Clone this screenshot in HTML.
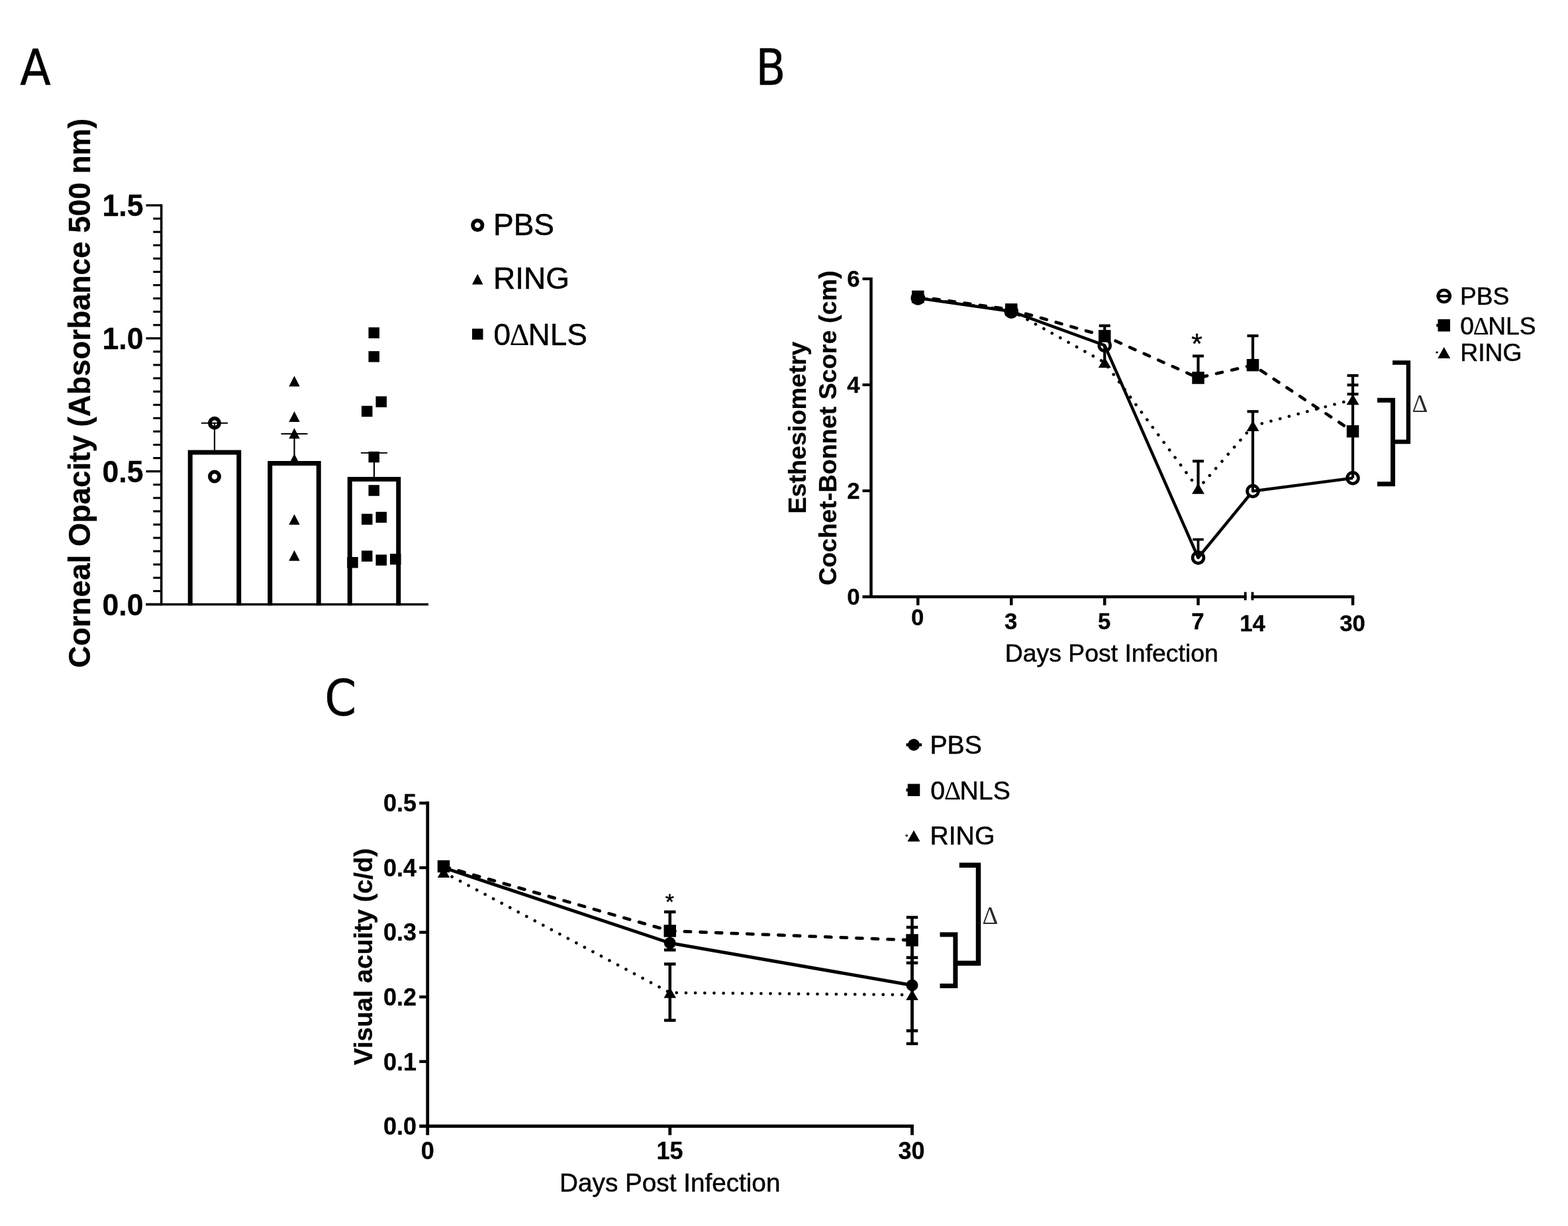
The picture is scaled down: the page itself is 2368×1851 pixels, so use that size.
<!DOCTYPE html>
<html lang="en">
<head>
<meta charset="utf-8">
<title>Figure: corneal opacity, esthesiometry and visual acuity</title>
<style>
html,body{margin:0;padding:0;background:#fff;}
body{width:2368px;height:1851px;overflow:hidden;}
svg{display:block;font-family:"Liberation Sans", sans-serif;fill:#000;stroke:#000;}
svg text{stroke:#000;stroke-width:0.5px;fill:#000;}
svg text.b{stroke-width:0.3px;}
svg .f{stroke:none;fill:#000;}
svg .pl text{font-family:"DejaVu Sans","Liberation Sans",sans-serif;}
svg .dl,svg .dl2{font-family:"Liberation Serif", serif;}
svg text.dl{fill:#2a2a2a;stroke:none;}
svg .dl2{stroke-width:0.2px;}
</style>
</head>
<body>
<svg width="2368" height="1851" viewBox="0 0 2368 1851">
<rect x="0" y="0" width="2368" height="1851" fill="#fff" stroke="none"/>
<g class="pl">
<text x="30.20" y="128.00" text-anchor="start" style="font-size:74.3px;" textLength="46.5" lengthAdjust="spacingAndGlyphs">A</text>
<text x="1141.60" y="128.00" text-anchor="start" style="font-size:75px;" textLength="45" lengthAdjust="spacingAndGlyphs">B</text>
<text x="490.20" y="1079.70" text-anchor="start" style="font-size:75px;" textLength="48" lengthAdjust="spacingAndGlyphs">C</text>
</g>
<g id="panelA">
<line x1="324.00" y1="638.75" x2="324.00" y2="683.00" stroke-width="2.2" />
<line x1="304.00" y1="638.75" x2="344.00" y2="638.75" stroke-width="2.2" />
<line x1="444.50" y1="655.00" x2="444.50" y2="699.60" stroke-width="2.2" />
<line x1="424.50" y1="655.00" x2="464.50" y2="655.00" stroke-width="2.2" />
<line x1="565.00" y1="683.75" x2="565.00" y2="723.50" stroke-width="2.2" />
<line x1="545.00" y1="683.75" x2="585.00" y2="683.75" stroke-width="2.2" />
<polygon points="444.50,567.60 452.75,583.60 436.25,583.60" class="f"/>
<polygon points="444.50,621.00 452.75,637.00 436.25,637.00" class="f"/>
<polygon points="444.50,646.20 452.75,662.20 436.25,662.20" class="f"/>
<polygon points="444.50,685.00 452.75,701.00 436.25,701.00" class="f"/>
<polygon points="444.50,776.20 452.75,792.20 436.25,792.20" class="f"/>
<polygon points="444.50,830.80 452.75,846.80 436.25,846.80" class="f"/>
<rect x="556.50" y="494.25" width="16.5" height="16.5" class="f"/>
<rect x="556.50" y="530.15" width="16.5" height="16.5" class="f"/>
<rect x="567.50" y="598.35" width="16.5" height="16.5" class="f"/>
<rect x="546.00" y="612.75" width="16.5" height="16.5" class="f"/>
<rect x="556.50" y="681.75" width="16.5" height="16.5" class="f"/>
<rect x="556.50" y="732.25" width="16.5" height="16.5" class="f"/>
<rect x="567.50" y="772.75" width="16.5" height="16.5" class="f"/>
<rect x="546.00" y="775.75" width="16.5" height="16.5" class="f"/>
<rect x="546.00" y="831.35" width="16.5" height="16.5" class="f"/>
<rect x="567.50" y="837.35" width="16.5" height="16.5" class="f"/>
<rect x="524.25" y="841.00" width="16.5" height="16.5" class="f"/>
<rect x="589.00" y="836.00" width="16.5" height="16.5" class="f"/>
<path d="M287.25 914.25V683.00H360.75V914.25" fill="none" stroke-width="7"/>
<path d="M407.75 914.25V699.60H481.25V914.25" fill="none" stroke-width="7"/>
<path d="M528.25 914.25V723.50H601.75V914.25" fill="none" stroke-width="7"/>
<circle cx="324.00" cy="638.75" r="7.1" fill="none" stroke-width="5.8"/>
<circle cx="324.00" cy="719.50" r="7.1" fill="none" stroke-width="5.8"/>
<line x1="243.70" y1="308.50" x2="243.70" y2="914.25" stroke-width="3.5" />
<line x1="220.50" y1="912.50" x2="647.00" y2="912.50" stroke-width="3.5" />
<line x1="220.50" y1="912.50" x2="243.70" y2="912.50" stroke-width="3.3" />
<line x1="231.30" y1="892.42" x2="243.70" y2="892.42" stroke-width="3.1" />
<line x1="231.30" y1="872.33" x2="243.70" y2="872.33" stroke-width="3.1" />
<line x1="231.30" y1="852.25" x2="243.70" y2="852.25" stroke-width="3.1" />
<line x1="231.30" y1="832.17" x2="243.70" y2="832.17" stroke-width="3.1" />
<line x1="231.30" y1="812.08" x2="243.70" y2="812.08" stroke-width="3.1" />
<line x1="231.30" y1="792.00" x2="243.70" y2="792.00" stroke-width="3.1" />
<line x1="231.30" y1="771.92" x2="243.70" y2="771.92" stroke-width="3.1" />
<line x1="231.30" y1="751.83" x2="243.70" y2="751.83" stroke-width="3.1" />
<line x1="231.30" y1="731.75" x2="243.70" y2="731.75" stroke-width="3.1" />
<line x1="220.50" y1="711.67" x2="243.70" y2="711.67" stroke-width="3.3" />
<line x1="231.30" y1="691.58" x2="243.70" y2="691.58" stroke-width="3.1" />
<line x1="231.30" y1="671.50" x2="243.70" y2="671.50" stroke-width="3.1" />
<line x1="231.30" y1="651.42" x2="243.70" y2="651.42" stroke-width="3.1" />
<line x1="231.30" y1="631.33" x2="243.70" y2="631.33" stroke-width="3.1" />
<line x1="231.30" y1="611.25" x2="243.70" y2="611.25" stroke-width="3.1" />
<line x1="231.30" y1="591.17" x2="243.70" y2="591.17" stroke-width="3.1" />
<line x1="231.30" y1="571.08" x2="243.70" y2="571.08" stroke-width="3.1" />
<line x1="231.30" y1="551.00" x2="243.70" y2="551.00" stroke-width="3.1" />
<line x1="231.30" y1="530.92" x2="243.70" y2="530.92" stroke-width="3.1" />
<line x1="220.50" y1="510.83" x2="243.70" y2="510.83" stroke-width="3.3" />
<line x1="231.30" y1="490.75" x2="243.70" y2="490.75" stroke-width="3.1" />
<line x1="231.30" y1="470.67" x2="243.70" y2="470.67" stroke-width="3.1" />
<line x1="231.30" y1="450.58" x2="243.70" y2="450.58" stroke-width="3.1" />
<line x1="231.30" y1="430.50" x2="243.70" y2="430.50" stroke-width="3.1" />
<line x1="231.30" y1="410.42" x2="243.70" y2="410.42" stroke-width="3.1" />
<line x1="231.30" y1="390.33" x2="243.70" y2="390.33" stroke-width="3.1" />
<line x1="231.30" y1="370.25" x2="243.70" y2="370.25" stroke-width="3.1" />
<line x1="231.30" y1="350.17" x2="243.70" y2="350.17" stroke-width="3.1" />
<line x1="231.30" y1="330.08" x2="243.70" y2="330.08" stroke-width="3.1" />
<line x1="220.50" y1="310.00" x2="243.70" y2="310.00" stroke-width="3.3" />
<text x="0" y="0" text-anchor="end" style="font-size:44.6px;font-weight:700;" transform="translate(216.50 928.50) scale(1 1.035)"  class="b">0.0</text>
<text x="0" y="0" text-anchor="end" style="font-size:44.6px;font-weight:700;" transform="translate(216.50 727.67) scale(1 1.035)"  class="b">0.5</text>
<text x="0" y="0" text-anchor="end" style="font-size:44.6px;font-weight:700;" transform="translate(216.50 526.83) scale(1 1.035)"  class="b">1.0</text>
<text x="0" y="0" text-anchor="end" style="font-size:44.6px;font-weight:700;" transform="translate(216.50 326.00) scale(1 1.035)"  class="b">1.5</text>
<text x="135.80" y="593.50" text-anchor="middle" style="font-size:45.8px;font-weight:700;" transform="rotate(-90 135.80 593.50)"  class="b">Corneal Opacity (Absorbance 500 nm)</text>
<circle cx="721.25" cy="340.00" r="7.2" fill="none" stroke-width="5.8"/>
<polygon points="721.25,413.50 729.50,429.50 713.00,429.50" class="f"/>
<rect x="713.00" y="496.25" width="16.5" height="16.5" class="f"/>
<text x="745.00" y="354.50" text-anchor="start" style="font-size:46px;" >PBS</text>
<text x="745.00" y="436.25" text-anchor="start" style="font-size:46px;" >RING</text>
<text x="745.50" y="521.25" style="font-size:46px">0<tspan class="dl2" dx="-1.38">&#916;</tspan><tspan dx="-1.84">NLS</tspan></text>
</g>
<g id="panelB">
<line x1="1668.25" y1="491.75" x2="1668.25" y2="507.40" stroke-width="4.2" />
<line x1="1659.75" y1="491.75" x2="1676.75" y2="491.75" stroke-width="4.2" />
<line x1="1668.25" y1="522.00" x2="1668.25" y2="547.20" stroke-width="4.2" />
<line x1="1809.50" y1="537.50" x2="1809.50" y2="570.50" stroke-width="4.2" />
<line x1="1801.00" y1="537.50" x2="1818.00" y2="537.50" stroke-width="4.2" />
<line x1="1809.50" y1="696.25" x2="1809.50" y2="737.80" stroke-width="4.2" />
<line x1="1801.00" y1="696.25" x2="1818.00" y2="696.25" stroke-width="4.2" />
<line x1="1809.50" y1="814.50" x2="1809.50" y2="842.00" stroke-width="3.8" />
<line x1="1801.25" y1="814.50" x2="1817.75" y2="814.50" stroke-width="3.8" />
<line x1="1892.00" y1="507.00" x2="1892.00" y2="551.25" stroke-width="4.2" />
<line x1="1883.50" y1="507.00" x2="1900.50" y2="507.00" stroke-width="4.2" />
<line x1="1892.00" y1="621.25" x2="1892.00" y2="741.50" stroke-width="4.2" />
<line x1="1883.50" y1="621.25" x2="1900.50" y2="621.25" stroke-width="4.2" />
<line x1="2043.00" y1="567.00" x2="2043.00" y2="721.75" stroke-width="4.2" />
<line x1="2034.50" y1="567.00" x2="2051.50" y2="567.00" stroke-width="4.2" />
<line x1="2034.50" y1="581.25" x2="2051.50" y2="581.25" stroke-width="4.2" />
<line x1="2034.50" y1="595.00" x2="2051.50" y2="595.00" stroke-width="4.2" />
<polyline points="1386.25,449.50 1527.25,469.00 1668.25,547.20 1809.50,737.80 1892.00,643.00 2043.00,603.25" fill="none" stroke-width="4.6" stroke-linejoin="round" stroke-dasharray="0.1 14.08" stroke-linecap="round"/>
<polyline points="1386.25,447.90 1527.25,467.40 1668.25,507.40 1809.50,570.50 1892.00,551.25 2043.00,651.25" fill="none" stroke-width="4.7" stroke-linejoin="round" stroke-dasharray="9.1 14.5" stroke-linecap="round"/>
<polyline points="1386.25,449.90 1527.25,470.20 1668.25,521.40 1809.50,842.00 1892.00,741.50 2043.00,721.75" fill="none" stroke-width="4.5" stroke-linejoin="round" />
<polygon points="1386.25,441.50 1395.75,457.50 1376.75,457.50" class="f"/>
<polygon points="1527.25,461.00 1536.75,477.00 1517.75,477.00" class="f"/>
<polygon points="1668.25,539.20 1677.75,555.20 1658.75,555.20" class="f"/>
<polygon points="1809.50,729.80 1819.00,745.80 1800.00,745.80" class="f"/>
<polygon points="1892.00,635.00 1901.50,651.00 1882.50,651.00" class="f"/>
<polygon points="2043.00,595.25 2052.50,611.25 2033.50,611.25" class="f"/>
<rect x="1377.00" y="438.65" width="18.5" height="18.5" class="f"/>
<rect x="1518.00" y="458.15" width="18.5" height="18.5" class="f"/>
<rect x="1659.00" y="498.15" width="18.5" height="18.5" class="f"/>
<rect x="1800.25" y="561.25" width="18.5" height="18.5" class="f"/>
<rect x="1882.75" y="542.00" width="18.5" height="18.5" class="f"/>
<rect x="2033.75" y="642.00" width="18.5" height="18.5" class="f"/>
<circle cx="1386.25" cy="449.90" r="8.4" fill="#000" stroke-width="4.7"/>
<circle cx="1527.25" cy="470.20" r="8.4" fill="#000" stroke-width="4.7"/>
<circle cx="1668.25" cy="521.40" r="8.4" fill="none" stroke-width="4.7"/>
<circle cx="1809.50" cy="842.00" r="8.4" fill="none" stroke-width="4.7"/>
<circle cx="1892.00" cy="741.50" r="8.4" fill="#fff" stroke-width="4.7"/>
<circle cx="2043.00" cy="721.75" r="8.4" fill="none" stroke-width="4.7"/>
<line x1="1892.00" y1="732.50" x2="1892.00" y2="743.00" stroke-width="4.2" />
<line x1="1891.00" y1="741.63" x2="1901.00" y2="740.30" stroke-width="4.5" />
<line x1="1315.50" y1="418.90" x2="1315.50" y2="903.00" stroke-width="4.5" />
<line x1="1302.50" y1="901.00" x2="1882.50" y2="901.00" stroke-width="4.5" />
<line x1="1889.60" y1="901.00" x2="2045.20" y2="901.00" stroke-width="4.5" />
<line x1="1880.70" y1="893.75" x2="1880.70" y2="906.25" stroke-width="3.8" />
<line x1="1891.50" y1="893.75" x2="1891.50" y2="906.25" stroke-width="3.8" />
<line x1="1302.50" y1="741.00" x2="1315.50" y2="741.00" stroke-width="4.2" />
<line x1="1302.50" y1="581.00" x2="1315.50" y2="581.00" stroke-width="4.2" />
<line x1="1302.50" y1="421.00" x2="1315.50" y2="421.00" stroke-width="4.2" />
<line x1="1386.25" y1="901.00" x2="1386.25" y2="913.75" stroke-width="4.5" />
<line x1="1527.25" y1="901.00" x2="1527.25" y2="913.75" stroke-width="4.5" />
<line x1="1668.25" y1="901.00" x2="1668.25" y2="913.75" stroke-width="4.5" />
<line x1="1809.50" y1="901.00" x2="1809.50" y2="913.75" stroke-width="4.5" />
<line x1="2043.00" y1="901.00" x2="2043.00" y2="913.75" stroke-width="4.5" />
<text x="0" y="0" text-anchor="end" style="font-size:34.8px;font-weight:700;" transform="translate(1298.50 913.20) scale(1 1.035)"  class="b">0</text>
<text x="0" y="0" text-anchor="end" style="font-size:34.8px;font-weight:700;" transform="translate(1298.50 753.20) scale(1 1.035)"  class="b">2</text>
<text x="0" y="0" text-anchor="end" style="font-size:34.8px;font-weight:700;" transform="translate(1298.50 593.20) scale(1 1.035)"  class="b">4</text>
<text x="0" y="0" text-anchor="end" style="font-size:34.8px;font-weight:700;" transform="translate(1298.50 433.20) scale(1 1.035)"  class="b">6</text>
<text x="0" y="0" text-anchor="middle" style="font-size:34.8px;font-weight:700;" transform="translate(1385.75 943.75) scale(1 1.035)"  class="b">0</text>
<text x="0" y="0" text-anchor="middle" style="font-size:34.8px;font-weight:700;" transform="translate(1526.75 950.00) scale(1 1.035)"  class="b">3</text>
<text x="0" y="0" text-anchor="middle" style="font-size:34.8px;font-weight:700;" transform="translate(1667.75 950.00) scale(1 1.035)"  class="b">5</text>
<text x="0" y="0" text-anchor="middle" style="font-size:34.8px;font-weight:700;" transform="translate(1809.00 950.00) scale(1 1.035)"  class="b">7</text>
<text x="0" y="0" text-anchor="middle" style="font-size:34.8px;font-weight:700;" transform="translate(1891.50 953.00) scale(1 1.035)"  class="b">14</text>
<text x="0" y="0" text-anchor="middle" style="font-size:34.8px;font-weight:700;" transform="translate(2042.50 953.00) scale(1 1.035)"  class="b">30</text>
<text x="1678.75" y="998.75" text-anchor="middle" style="font-size:37.4px;" >Days Post Infection</text>
<text x="1216.70" y="645.75" text-anchor="middle" style="font-size:37.7px;font-weight:700;" transform="rotate(-90 1216.70 645.75)"  class="b">Esthesiometry</text>
<text x="1262.90" y="646.20" text-anchor="middle" style="font-size:37.7px;font-weight:700;" transform="rotate(-90 1262.90 646.20)"  class="b">Cochet-Bonnet Score (cm)</text>
<text x="1807.50" y="533.20" text-anchor="middle" style="font-size:42.5px;" >*</text>
<path d="M2080 604.25H2103.5V730.75H2080" fill="none" stroke-width="7"/>
<path d="M2103 547.5H2126.9V667H2107" fill="none" stroke-width="6.4"/>
<text x="2132.50" y="621.50" text-anchor="start" style="font-size:37px;"  class="dl">&#916;</text>
<line x1="2169.75" y1="447.00" x2="2191.75" y2="447.00" stroke-width="3.6" />
<circle cx="2180.75" cy="447.00" r="9.0" fill="none" stroke-width="4.7"/>
<line x1="2169.25" y1="491.25" x2="2180.75" y2="491.25" stroke-width="4.5" />
<rect x="2171.50" y="482.00" width="18.5" height="18.5" class="f"/>
<line x1="2169.75" y1="532.00" x2="2170.25" y2="532.00" stroke-width="3" stroke-linecap="round"/>
<polygon points="2180.75,524.00 2190.25,541.00 2171.25,541.00" class="f"/>
<text x="2205.00" y="459.50" text-anchor="start" style="font-size:37.2px;" >PBS</text>
<text x="2205.20" y="505.00" style="font-size:37.2px">0<tspan class="dl2" dx="-1.12">&#916;</tspan><tspan dx="-1.49">NLS</tspan></text>
<text x="2205.20" y="544.50" text-anchor="start" style="font-size:37.4px;" >RING</text>
</g>
<g id="panelC">
<line x1="1011.75" y1="1376.75" x2="1011.75" y2="1434.25" stroke-width="4.5" />
<line x1="1003.00" y1="1376.75" x2="1020.50" y2="1376.75" stroke-width="4.5" />
<line x1="1003.00" y1="1434.25" x2="1020.50" y2="1434.25" stroke-width="4.5" />
<line x1="1011.75" y1="1455.50" x2="1011.75" y2="1540.50" stroke-width="4.5" />
<line x1="1003.00" y1="1455.50" x2="1020.50" y2="1455.50" stroke-width="4.5" />
<line x1="1003.00" y1="1540.50" x2="1020.50" y2="1540.50" stroke-width="4.5" />
<line x1="1377.50" y1="1385.00" x2="1377.50" y2="1453.75" stroke-width="4.5" />
<line x1="1368.75" y1="1385.00" x2="1386.25" y2="1385.00" stroke-width="4.5" />
<line x1="1368.75" y1="1453.75" x2="1386.25" y2="1453.75" stroke-width="4.5" />
<line x1="1377.50" y1="1400.00" x2="1377.50" y2="1575.75" stroke-width="4.5" />
<line x1="1368.75" y1="1400.00" x2="1386.25" y2="1400.00" stroke-width="4.5" />
<line x1="1368.75" y1="1575.75" x2="1386.25" y2="1575.75" stroke-width="4.5" />
<line x1="1377.50" y1="1445.75" x2="1377.50" y2="1556.25" stroke-width="4.5" />
<line x1="1368.75" y1="1445.75" x2="1386.25" y2="1445.75" stroke-width="4.5" />
<line x1="1368.75" y1="1556.25" x2="1386.25" y2="1556.25" stroke-width="4.5" />
<polyline points="670.00,1317.00 1011.75,1498.75 1377.50,1502.00" fill="none" stroke-width="4.6" stroke-linejoin="round" stroke-dasharray="0.1 14.08" stroke-linecap="round"/>
<polyline points="670.00,1308.00 1011.75,1405.50 1377.50,1419.50" fill="none" stroke-width="4.8" stroke-linejoin="round" stroke-dasharray="9.1 14.5" stroke-linecap="round"/>
<polyline points="670.00,1310.00 1011.75,1423.75 1377.50,1487.50" fill="none" stroke-width="5.0" stroke-linejoin="round" />
<polygon points="670.00,1309.00 679.25,1325.00 660.75,1325.00" class="f"/>
<polygon points="1011.75,1490.75 1021.00,1506.75 1002.50,1506.75" class="f"/>
<polygon points="1377.50,1494.00 1386.75,1510.00 1368.25,1510.00" class="f"/>
<rect x="660.75" y="1298.75" width="18.5" height="18.5" class="f"/>
<rect x="1002.50" y="1396.25" width="18.5" height="18.5" class="f"/>
<rect x="1368.25" y="1410.25" width="18.5" height="18.5" class="f"/>
<circle cx="670.00" cy="1310.00" r="9" class="f"/>
<circle cx="1011.75" cy="1423.75" r="9" class="f"/>
<circle cx="1377.50" cy="1487.50" r="9" class="f"/>
<line x1="645.75" y1="1210.10" x2="645.75" y2="1713.75" stroke-width="4.8" />
<line x1="633.25" y1="1700.25" x2="1379.90" y2="1700.25" stroke-width="4.8" />
<line x1="633.25" y1="1602.70" x2="645.75" y2="1602.70" stroke-width="4.4" />
<line x1="633.25" y1="1505.15" x2="645.75" y2="1505.15" stroke-width="4.4" />
<line x1="633.25" y1="1407.60" x2="645.75" y2="1407.60" stroke-width="4.4" />
<line x1="633.25" y1="1310.05" x2="645.75" y2="1310.05" stroke-width="4.4" />
<line x1="633.25" y1="1212.50" x2="645.75" y2="1212.50" stroke-width="4.4" />
<line x1="1011.75" y1="1700.25" x2="1011.75" y2="1713.75" stroke-width="4.8" />
<line x1="1377.50" y1="1700.25" x2="1377.50" y2="1713.75" stroke-width="4.8" />
<text x="0" y="0" text-anchor="end" style="font-size:36px;font-weight:700;" transform="translate(629.00 1713.05) scale(1 1.035)"  class="b">0.0</text>
<text x="0" y="0" text-anchor="end" style="font-size:36px;font-weight:700;" transform="translate(629.00 1615.50) scale(1 1.035)"  class="b">0.1</text>
<text x="0" y="0" text-anchor="end" style="font-size:36px;font-weight:700;" transform="translate(629.00 1517.95) scale(1 1.035)"  class="b">0.2</text>
<text x="0" y="0" text-anchor="end" style="font-size:36px;font-weight:700;" transform="translate(629.00 1420.40) scale(1 1.035)"  class="b">0.3</text>
<text x="0" y="0" text-anchor="end" style="font-size:36px;font-weight:700;" transform="translate(629.00 1322.85) scale(1 1.035)"  class="b">0.4</text>
<text x="0" y="0" text-anchor="end" style="font-size:36px;font-weight:700;" transform="translate(629.00 1225.30) scale(1 1.035)"  class="b">0.5</text>
<text x="0" y="0" text-anchor="middle" style="font-size:36px;font-weight:700;" transform="translate(645.75 1749.60) scale(1 1.035)"  class="b">0</text>
<text x="0" y="0" text-anchor="middle" style="font-size:36px;font-weight:700;" transform="translate(1011.50 1749.60) scale(1 1.035)"  class="b">15</text>
<text x="0" y="0" text-anchor="middle" style="font-size:36px;font-weight:700;" transform="translate(1376.50 1749.60) scale(1 1.035)"  class="b">30</text>
<text x="1011.75" y="1798.75" text-anchor="middle" style="font-size:38.7px;" >Days Post Infection</text>
<text x="561.60" y="1444.25" text-anchor="middle" style="font-size:38.6px;font-weight:700;" transform="rotate(-90 561.60 1444.25)"  class="b">Visual acuity (c/d)</text>
<text x="1011.25" y="1372.80" text-anchor="middle" style="font-size:34px;" >*</text>
<path d="M1419.5 1411H1442.9V1488.5H1419.5" fill="none" stroke-width="7"/>
<path d="M1448.75 1306.25H1477.5V1454.25H1446" fill="none" stroke-width="7.5"/>
<text x="1483.50" y="1395.00" text-anchor="start" style="font-size:37px;"  class="dl">&#916;</text>
<line x1="1368.50" y1="1124.50" x2="1392.00" y2="1124.50" stroke-width="4.5" />
<circle cx="1380.00" cy="1124.50" r="9" class="f"/>
<line x1="1368.50" y1="1192.75" x2="1380.00" y2="1192.75" stroke-width="4.5" />
<rect x="1370.75" y="1183.50" width="18.5" height="18.5" class="f"/>
<line x1="1369.00" y1="1261.50" x2="1369.50" y2="1261.50" stroke-width="3" stroke-linecap="round"/>
<polygon points="1380.00,1253.50 1389.50,1270.50 1370.50,1270.50" class="f"/>
<text x="1404.40" y="1137.50" text-anchor="start" style="font-size:39.2px;" >PBS</text>
<text x="1405.30" y="1207.00" style="font-size:39.2px">0<tspan class="dl2" dx="-1.18">&#916;</tspan><tspan dx="-1.57">NLS</tspan></text>
<text x="1404.40" y="1274.50" text-anchor="start" style="font-size:39.2px;" >RING</text>
</g>
</svg>
</body>
</html>
